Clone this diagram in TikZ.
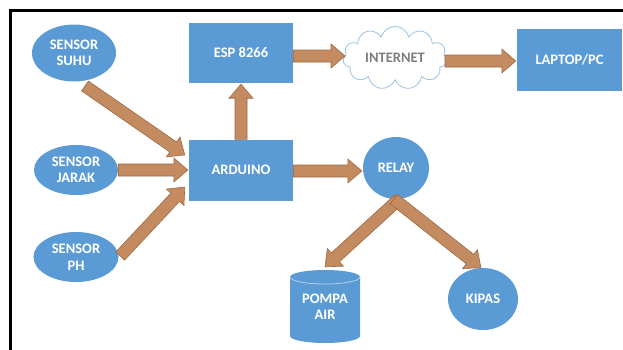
\documentclass[tikz,border=0pt]{standalone}
\usepackage{fontspec}
\setmainfont{Carlito}
\usetikzlibrary{shapes.geometric,shapes.symbols,calc}
\definecolor{nodeblue}{HTML}{5B9BD5}
\definecolor{capline}{HTML}{B4CFEA}
\definecolor{arrowfill}{HTML}{C48A60}
\definecolor{arrowedge}{HTML}{9C6B45}
\definecolor{cloudedge}{HTML}{9DC3E6}
\definecolor{cloudtext}{HTML}{7F7F7F}
\tikzset{
  lbl/.style={font=\fontsize{14.5}{16.5}\selectfont\bfseries, text=white, align=center},
  bluebox/.style={lbl, rectangle, fill=nodeblue, draw=none, inner sep=0pt},
  blueell/.style={lbl, ellipse, fill=nodeblue, draw=none, inner sep=0pt},
  netcloud/.style={cloud, cloud puffs=11, aspect=1.8, draw=cloudedge, fill=white, line width=0.8pt,
     font=\fontsize{14.5}{16.5}\selectfont\bfseries, text=cloudtext, inner sep=0pt},
  blockarrowsty/.style={fill=arrowfill, draw=arrowedge, line width=0.6pt, line join=miter}
}
\newcommand{\blockarrow}[2]{%
  \path (#1) coordinate (baT) (#2) coordinate (baH);
  \path let \p1=($(baH)-(baT)$) in \pgfextra{%
    \pgfmathsetmacro{\baang}{atan2(\y1,\x1)}%
    \pgfmathsetmacro{\balen}{veclen(\x1,\y1)}%
    \xdef\baang{\baang}\xdef\balen{\balen}};
  \draw[blockarrowsty, shift={(baT)}, rotate=\baang]
    (0pt,-6pt) -- ({\balen pt-14pt},-6pt) -- ({\balen pt-14pt},-12pt)
    -- ({\balen pt},0pt) -- ({\balen pt-14pt},12pt) -- ({\balen pt-14pt},6pt)
    -- (0pt,6pt) -- cycle;
}
\begin{document}
\begin{tikzpicture}[x=1pt,y=-1pt]
\useasboundingbox (0,0) rectangle (623,349);
\clip (0,0) rectangle (623,349);
\fill[white] (0,0) rectangle (623,349);
\draw[line width=2.5pt] (10.5,10.5) rectangle (700,420);

% nodes
\node[blueell, minimum width=84pt, minimum height=57pt] (suhu) at (74,53) {SENSOR\\SUHU};
\node[blueell, minimum width=84pt, minimum height=50pt] (jarak) at (76,170) {SENSOR\\JARAK};
\node[blueell, minimum width=85pt, minimum height=50pt] (ph) at (76,257) {SENSOR\\PH};
\node[bluebox, minimum width=104pt, minimum height=60pt] (esp) at (241,53) {ESP 8266};
\node[bluebox, minimum width=104pt, minimum height=61pt] (ard) at (241,170) {ARDUINO};
\node[netcloud, minimum width=104pt, minimum height=60pt] (inet) at (395,58) {INTERNET};
\node[bluebox, minimum width=105pt, minimum height=62pt] (laptop) at (569.5,60) {LAPTOP/PC};
\node[blueell, minimum width=66pt, minimum height=62pt] (relay) at (396,168) {RELAY};
\node[blueell, minimum width=70pt, minimum height=62pt] (kipas) at (483,299) {KIPAS};

% cylinder for POMPA AIR
\fill[nodeblue] (290,277) -- (290,336)
   arc[start angle=180, end angle=360, x radius=35pt, y radius=7pt]
   -- (360,277)
   arc[start angle=0, end angle=180, x radius=35pt, y radius=7pt] -- cycle;
\draw[capline, line width=0.8pt] (290,277)
   arc[start angle=180, end angle=360, x radius=35pt, y radius=7pt];
\node[lbl, minimum width=70pt, minimum height=73pt, inner sep=0pt] (pompa) at (325,306.5) {POMPA\\AIR};

% arrows
\blockarrow{$(suhu.center)+(11,33)$}{$(ard.west)+(-4,-15)$}
\blockarrow{$(jarak.east)+(0,0)$}{$(ard.west)+(-1,0)$}
\blockarrow{$(ph.east)+(1.5,-1)$}{$(ard.west)+(-4,17)$}
\blockarrow{ard.north}{$(esp.south)+(0,1)$}
\blockarrow{$(esp.east)+(0,3)$}{$(inet.center)+(-50,-2)$}
\blockarrow{$(inet.center)+(50,3)$}{$(laptop.west)+(-1,1)$}
\blockarrow{$(ard.east)+(0,1)$}{$(relay.west)+(-1,3)$}
\blockarrow{$(relay.south)+(3,0)$}{$(pompa.north)+(0,-3)$}
\blockarrow{$(relay.south)+(-2,0)$}{$(kipas.north)+(-2,0)$}
\end{tikzpicture}
\end{document}
